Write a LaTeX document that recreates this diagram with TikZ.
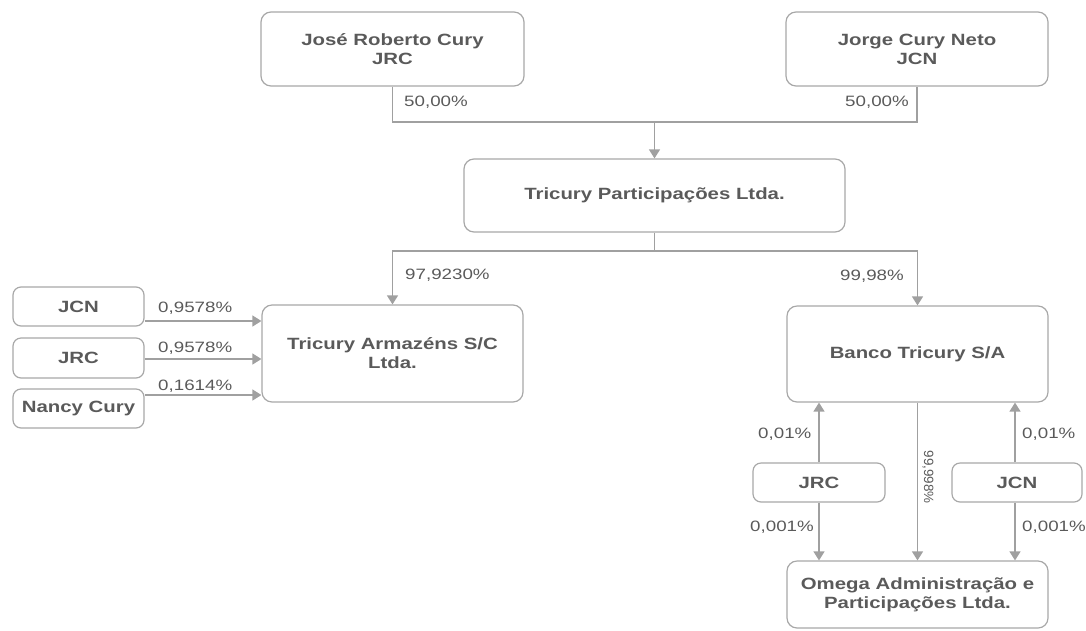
\documentclass[tikz,border=0pt]{standalone}
\usepackage{fontspec}
\setmainfont{Liberation Sans}[FakeStretch=1.25]
\newfontfamily\rotfont{Liberation Sans}
\usetikzlibrary{arrows.meta}
\definecolor{boxgray}{HTML}{A8A8A8}
\definecolor{linegray}{HTML}{A0A0A0}
\definecolor{textgray}{HTML}{5A5A5A}
\begin{document}
\begin{tikzpicture}[x=1pt, y=-1pt,
	box/.style = {draw=boxgray, line width=1.2pt, rounded corners=10pt, align=center, inner sep=0pt, text=textgray, font=\fontsize{16.3}{19}\selectfont\bfseries},
	small/.style = {box, rounded corners=8pt, minimum width=131pt, minimum height=39pt},
	pct/.style = {inner sep=0pt, text=textgray, font=\fontsize{15}{18}\selectfont},
	link/.style = {draw=linegray, line width=1.3pt},
	arr/.style = {link, -{Triangle[length=9pt,width=11pt]}}]
		\useasboundingbox (0,0) rectangle (1086,630);
		\node[box, minimum width=263pt, minimum height=74pt] (jrc) at (392.5,49) {José Roberto Cury\\JRC};
		\node[box, minimum width=262pt, minimum height=74pt] (jcn) at (917,49) {Jorge Cury Neto\\JCN};
		\node[box, minimum width=381pt, minimum height=73pt] (part) at (654.5,195.5) {Tricury Participações Ltda.};
		\node[box, minimum width=261pt, minimum height=97pt] (arm) at (392.5,353.5) {Tricury Armazéns S/C\\Ltda.};
		\node[box, minimum width=261pt, minimum height=96pt] (banco) at (917.5,354) {Banco Tricury S/A};
		\node[box, minimum width=261pt, minimum height=67pt] (omega) at (917.5,594.5) {Omega Administração e\\Participações Ltda.};
		\node[small] (ljcn) at (78.5,306.5) {JCN};
		\node[small, minimum height=40pt] (ljrc) at (78.5,358) {JRC};
		\node[small] (nancy) at (78.5,408.5) {Nancy Cury};
		\node[small, minimum width=132pt] (bjrc) at (819,482.5) {JRC};
		\node[small, minimum width=130pt] (bjcn) at (1017,482.5) {JCN};
		\coordinate (top) at (654.5,122);
		\coordinate (mid) at (654.5,251);
		\draw[link] (jrc.south) |- (top) -| (jcn.south);
		\draw[arr] (top) -- (part.north);
		\draw[link] (part.south) -- (mid);
		\draw[arr] (mid) -| (arm.north);
		\draw[arr] (mid) -| (banco.north);
		\draw[arr] ([yshift=-14.5pt]ljcn.east) -- ([yshift=-14.5pt]ljcn.east -| arm.west);
		\draw[arr] ([yshift=-1pt]ljrc.east) -- ([yshift=-1pt]ljrc.east -| arm.west);
		\draw[arr] ([yshift=13.5pt]nancy.east) -- ([yshift=13.5pt]nancy.east -| arm.west);
		\draw[arr] (bjrc.north) -- (bjrc.north |- banco.south);
		\draw[arr] ([xshift=-2pt]bjcn.north) -- ([xshift=-2pt]bjcn.north |- banco.south);
		\draw[arr] (banco.south) -- (omega.north);
		\draw[arr] (bjrc.south) -- (bjrc.south |- omega.north);
		\draw[arr] ([xshift=-2pt]bjcn.south) -- ([xshift=-2pt]bjcn.south |- omega.north);
		\node[pct, anchor=west] (p1) at (404,102) {50,00\%};
		\node[pct, anchor=east] (p2) at (909,102) {50,00\%};
		\node[pct, anchor=west] (p3) at (405,275) {97,9230\%};
		\node[pct, anchor=east] (p4) at (904,276) {99,98\%};
		\node[pct, anchor=west] (p5) at (158,308) {0,9578\%};
		\node[pct, anchor=west] (p6) at (158,348) {0,9578\%};
		\node[pct, anchor=west] (p7) at (158,386) {0,1614\%};
		\node[pct, anchor=west] (p8) at (758,434) {0,01\%};
		\node[pct, anchor=west] (p9) at (1022,434) {0,01\%};
		\node[pct, anchor=west] (p10) at (750,527) {0,001\%};
		\node[pct, anchor=west] (p11) at (1022,527) {0,001\%};
		\node[pct, font=\rotfont\fontsize{13.4}{16}\selectfont, rotate=-90] (p12) at (928,477) {99,998\%};
	\end{tikzpicture}
\end{document}
